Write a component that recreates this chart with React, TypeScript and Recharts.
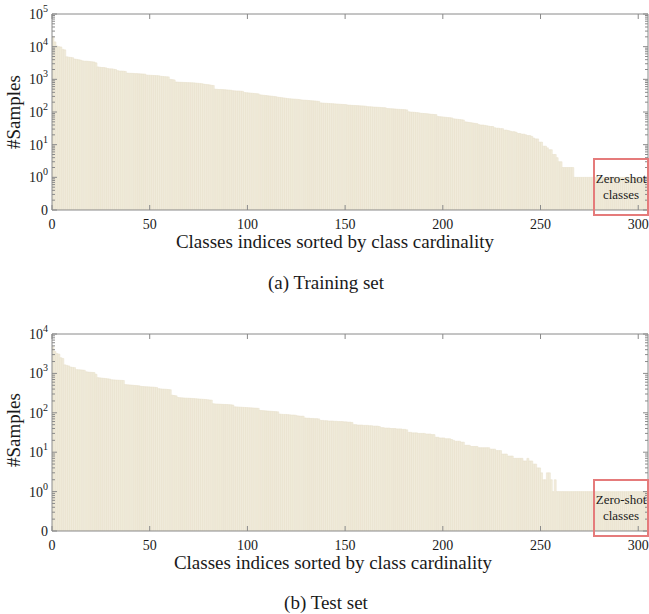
import React from 'react';
import { BarChart, Bar, XAxis, YAxis } from 'recharts';

// samples per class, sorted by class cardinality
const trainCounts = [
  20000, 14000, 10500, 10000, 9800, 8300, 8000, 4900, 4800, 4700,
  4600, 4200, 4100, 4000, 3900, 3700, 3600, 3600, 3550, 3500,
  3450, 3400, 3200, 2400, 2350, 2300, 2300, 2250, 2150, 2100,
  2100, 2050, 2000, 1850, 1800, 1800, 1780, 1750, 1550, 1540,
  1530, 1520, 1500, 1500, 1480, 1470, 1460, 1450, 1350, 1340,
  1330, 1320, 1310, 1300, 1290, 1250, 1230, 1210, 1200, 1190,
  1000, 980, 960, 830, 820, 815, 810, 805, 800, 795,
  790, 785, 780, 770, 760, 750, 740, 720, 700, 690,
  680, 660, 650, 500, 495, 490, 490, 485, 480, 475,
  470, 465, 450, 445, 440, 440, 435, 430, 395, 390,
  385, 380, 375, 370, 365, 360, 335, 330, 325, 320,
  315, 310, 305, 300, 295, 285, 280, 275, 270, 265,
  258, 255, 252, 250, 248, 245, 242, 235, 232, 230,
  228, 225, 222, 220, 218, 215, 212, 190, 188, 186,
  185, 183, 181, 180, 178, 176, 175, 173, 171, 170,
  168, 163, 162, 160, 159, 158, 157, 155, 154, 153,
  151, 146, 145, 144, 142, 141, 140, 139, 137, 136,
  135, 128, 127, 126, 125, 124, 122, 121, 120, 119,
  118, 116, 102, 100, 99, 98, 96, 95, 92, 91,
  90, 89, 88, 86, 85, 84, 83, 73, 72, 71,
  70, 69, 68, 67, 66, 62, 61, 60, 59, 58,
  57, 50, 49, 48, 47, 46, 45, 44, 41, 40,
  40, 39, 38, 37, 36, 36, 33, 32, 32, 31,
  31, 28, 28, 27, 26, 25, 25, 24, 22, 22,
  21, 21, 20, 19, 19, 18, 16, 15, 15, 12,
  12, 9, 9, 8, 7, 7, 5, 5, 4, 3,
  3, 2, 2, 2, 2, 2, 2, 1, 1, 1,
  1, 1, 1, 1, 1, 1, 1, 1, 1, 1,
  1, 1, 1, 1, 1, 1, 1, 1, 1, 1,
  1, 1, 1, 1, 1, 1, 1, 1, 1, 1,
  1, 1, 1, 1, 1,
];

const testCounts = [
  4800, 3600, 3200, 3100, 2500, 2400, 1650, 1600, 1550, 1450,
  1420, 1400, 1250, 1240, 1230, 1220, 1200, 1100, 1080, 1070,
  1060, 1050, 950, 780, 770, 760, 750, 740, 730, 720,
  690, 685, 680, 675, 670, 665, 660, 520, 515, 510,
  505, 500, 495, 490, 485, 470, 465, 460, 458, 455,
  452, 450, 445, 440, 410, 405, 400, 398, 395, 390,
  385, 280, 275, 270, 245, 242, 240, 238, 236, 235,
  234, 232, 230, 228, 226, 224, 222, 220, 218, 215,
  212, 210, 170, 168, 167, 166, 165, 164, 163, 162,
  161, 160, 158, 142, 141, 140, 139, 138, 137, 136,
  135, 134, 133, 132, 131, 130, 115, 114, 113, 112,
  111, 110, 109, 108, 107, 106, 93, 92, 91, 91,
  90, 89, 88, 88, 87, 84, 83, 82, 82, 74,
  73, 73, 72, 72, 71, 71, 70, 64, 64, 63,
  63, 62, 62, 62, 61, 61, 60, 60, 60, 59,
  59, 58, 58, 57, 50, 50, 49, 49, 49, 48,
  48, 48, 47, 47, 46, 46, 46, 45, 42, 42,
  41, 41, 41, 40, 40, 40, 39, 39, 39, 38,
  38, 37, 32, 32, 31, 31, 31, 30, 30, 30,
  30, 29, 29, 29, 28, 28, 24, 24, 23, 23,
  23, 22, 22, 22, 21, 20, 19, 19, 19, 18,
  18, 15, 15, 15, 14, 14, 14, 14, 13, 13,
  13, 13, 13, 13, 12, 12, 12, 11, 11, 11,
  9, 9, 9, 8, 8, 8, 7, 7, 7, 7,
  7, 6, 6, 7, 6, 6, 5, 5, 4, 4,
  3, 2, 2, 3, 3, 2, 1, 2, 1, 1,
  1, 1, 1, 1, 1, 1, 1, 1, 1, 1,
  1, 1, 1, 1, 1, 1, 1, 1, 1, 1,
  1, 1, 1, 1, 1, 1, 1, 1, 1, 1,
  1, 1, 1, 1, 1, 1, 1, 1, 1, 1,
  1, 1, 1, 1, 1,
];

const xTicks = [0, 50, 100, 150, 200, 250, 300];
const xDomain = [0, 305];
// decade positions: 0 -> "0", k -> 10^(k-1)
const trainDecades = [0, 1, 2, 3, 4, 5, 6];
const testDecades = [0, 1, 2, 3, 4, 5];

const FONT = '"Liberation Serif", "Times New Roman", serif';
const AXIS = '#8a8a8a';
const TEXT = '#1a1a1a';
const BAR_FILL = '#f1ecdc';
const BAR_EDGE = '#e6dfc8';
const BOX = '#e57b7b';

const toRows = (counts: number[]) => counts.map((c, i) => ({ x: i + 0.5, count: c }));
const logHeight = (d: any) => (d.count > 0 ? Math.log10(d.count) + 1 : 0);

function withMinor(decades: number[]) {
  const out: number[] = [];
  decades.forEach((k, i) => {
    out.push(k);
    if (i < decades.length - 1) {
      for (let m = 2; m <= 9; m++) out.push(k + Math.log10(m));
    }
  });
  return out;
}

const isMajor = (v: number) => Math.abs(v - Math.round(v)) < 1e-9;

const BottomTick = (props: any) => {
  const { x, y, payload } = props;
  return (
    <g>
      <line x1={x} x2={x} y1={y} y2={y - 5} stroke={AXIS} />
      <text x={x} y={y + 19} textAnchor="middle" fontSize={14} fontFamily={FONT} fill={TEXT}>
        {payload.value}
      </text>
    </g>
  );
};

const TopTick = (props: any) => {
  const { x, y } = props;
  return <line x1={x} x2={x} y1={y} y2={y + 5} stroke={AXIS} />;
};

const LeftTick = (props: any) => {
  const { x, y, payload } = props;
  const v = payload.value;
  const major = isMajor(v);
  return (
    <g>
      <line x1={x} x2={x + (major ? 5 : 3)} y1={y} y2={y} stroke={AXIS} />
      {major && v === 0 && (
        <text x={x - 4} y={y + 5} textAnchor="end" fontSize={14} fontFamily={FONT} fill={TEXT}>0</text>
      )}
      {major && v > 0 && (
        <text x={x - 4} y={y + 5} textAnchor="end" fontSize={14} fontFamily={FONT} fill={TEXT}>
          <tspan>10</tspan>
          <tspan dy={-7} fontSize={10}>{Math.round(v) - 1}</tspan>
        </text>
      )}
    </g>
  );
};

const RightTick = (props: any) => {
  const { x, y, payload } = props;
  const major = isMajor(payload.value);
  return <line x1={x} x2={x - (major ? 5 : 3)} y1={y} y2={y} stroke={AXIS} />;
};

function CountChart({ counts, decades, top, bottom }: { counts: number[]; decades: number[]; top: number; bottom: number }) {
  const yTicks = withMinor(decades);
  const yMax = decades[decades.length - 1];
  return (
    <div style={{ position: 'absolute', left: 0, top }}>
      <BarChart
        width={649}
        height={250}
        data={toRows(counts)}
        margin={{ top: 13, right: 0, bottom, left: 51 }}
        barCategoryGap={0}
        barGap={0}
      >
        <XAxis
          xAxisId="b"
          dataKey="x"
          type="number"
          domain={xDomain}
          ticks={xTicks}
          interval={0}
          height={1}
          tickSize={0}
          tickMargin={0}
          tick={BottomTick}
          tickLine={false}
          axisLine={{ stroke: AXIS }}
          allowDataOverflow
        />
        <XAxis
          xAxisId="t"
          orientation="top"
          dataKey="x"
          type="number"
          domain={xDomain}
          ticks={xTicks}
          interval={0}
          height={1}
          tickSize={0}
          tickMargin={0}
          tick={TopTick}
          tickLine={false}
          axisLine={{ stroke: AXIS }}
          allowDataOverflow
        />
        <YAxis
          yAxisId="l"
          type="number"
          domain={[0, yMax]}
          ticks={yTicks}
          interval={0}
          width={1}
          tickSize={0}
          tickMargin={0}
          tick={LeftTick}
          tickLine={false}
          axisLine={{ stroke: AXIS }}
          allowDataOverflow
        />
        <YAxis
          yAxisId="r"
          orientation="right"
          type="number"
          domain={[0, yMax]}
          ticks={yTicks}
          interval={0}
          width={1}
          tickSize={0}
          tickMargin={0}
          tick={RightTick}
          tickLine={false}
          axisLine={{ stroke: AXIS }}
          allowDataOverflow
        />
        <Bar
          xAxisId="b"
          yAxisId="l"
          dataKey={logHeight}
          fill={BAR_FILL}
          stroke={BAR_EDGE}
          strokeWidth={0.5}
          isAnimationActive={false}
        />
      </BarChart>
    </div>
  );
}

const centered = (x: number, y: number, size: number, extra: React.CSSProperties = {}): React.CSSProperties => ({
  position: 'absolute',
  left: x,
  top: y,
  transform: 'translate(-50%, -50%)',
  fontSize: size,
  whiteSpace: 'nowrap',
  color: TEXT,
  ...extra,
});

const ZeroShotBox = ({ top }: { top: number }) => (
  <div
    style={{
      position: 'absolute',
      left: 593,
      top,
      width: 52,
      height: 54,
      border: `2px solid ${BOX}`,
      display: 'flex',
      flexDirection: 'column',
      justifyContent: 'center',
      alignItems: 'center',
      fontSize: 13,
      lineHeight: '16px',
      whiteSpace: 'nowrap',
      color: TEXT,
    }}
  >
    <span>Zero-shot</span>
    <span>classes</span>
  </div>
);

export default function App() {
  return (
    <div
      style={{
        position: 'absolute',
        left: 0,
        top: 0,
        width: 649,
        height: 614,
        background: '#ffffff',
        fontFamily: FONT,
        overflow: 'hidden',
      }}
    >
      <CountChart counts={trainCounts} decades={trainDecades} top={0} bottom={39} />
      <CountChart counts={testCounts} decades={testDecades} top={320} bottom={38} />

      <div style={centered(14, 112, 19, { transform: 'translate(-50%, -50%) rotate(-90deg)' })}>#Samples</div>
      <div style={centered(335, 242, 19)}>Classes indices sorted by class cardinality</div>
      <div style={centered(326, 283, 19)}>(a) Training set</div>
      <ZeroShotBox top={158} />

      <div style={centered(14, 430, 19, { transform: 'translate(-50%, -50%) rotate(-90deg)' })}>#Samples</div>
      <div style={centered(333, 563, 19)}>Classes indices sorted by class cardinality</div>
      <div style={centered(326, 603, 19)}>(b) Test set</div>
      <ZeroShotBox top={479} />
    </div>
  );
}
